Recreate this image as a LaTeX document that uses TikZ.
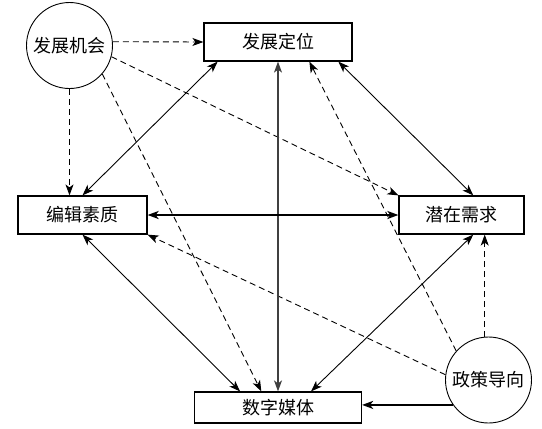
\documentclass[tikz,border=0pt]{standalone}
\usepackage{fontspec}
\newfontfamily\cjk{Noto Sans CJK SC}
\usepackage{tikz}
\usetikzlibrary{arrows.meta,positioning}

\begin{document}
\begin{tikzpicture}[x=1pt,y=-1pt,on grid,
        every node/.style={font=\cjk\fontsize{18}{20}\selectfont},
        box/.style={rectangle,draw,line width=1.2pt,inner sep=0pt,minimum height=38pt},
        factor/.style={circle,draw,line width=0.9pt,inner sep=0pt,minimum size=86pt},
        tip/.style={-{Stealth[length=11pt,width=8pt,inset=3pt]}},
        both/.style={{Stealth[length=11pt,width=8pt,inset=3pt]}-{Stealth[length=11pt,width=8pt,inset=3pt]}},
        link/.style={line width=0.9pt},
        weak/.style={line width=0.9pt,dash pattern=on 6pt off 4pt},
        strong/.style={line width=2.4pt}]
        \useasboundingbox (0,0) rectangle (542,429);

        \node[box,minimum width=148pt] (dw) at (278,42) {发展定位};
        \node[factor] (jh) [below left=3.5pt and 208.5pt of dw] {发展机会};
        \node[box,minimum width=129pt] (bj) [below left=173pt and 195.5pt of dw] {编辑素质};
        \node[box,minimum width=125pt] (qz) [below right=173pt and 183.5pt of dw] {潜在需求};
        \node[box,minimum width=167pt,minimum height=31pt] (sz) [below=365.5pt of dw] {数字媒体};
        \node[factor] (zc) [above right=27.5pt and 210.5pt of sz] {政策导向};

        % influence of the two outer factors
        \draw[weak,tip] (jh.5) -- (dw.west);
        \draw[weak,tip] (jh.south) -- (jh.south |- bj.north);
        \draw[weak,tip] (jh.-15) -- (qz.north west);
        \draw[weak,tip] (jh.-41) -- (sz.136);
        \draw[weak,tip] (zc.95) -- (zc.95 |- qz.south);
        \draw[weak,tip] (zc.173) -- (bj.south east);
        \draw[weak,tip] (zc.138) -- (dw.-32);
        \draw[strong,tip] (zc.215) -- (zc.215 -| sz.east);

        % mutual links
        \draw[link,both] (dw.198) -- (bj.north);
        \draw[link,both] (dw.-18) -- (qz.59);
        \draw[line width=1.3pt,black!75,both] (dw.south) -- (sz.north);
        \draw[strong,both] (bj.east) -- (qz.west);
        \draw[link,both] (bj.south) -- (sz.157);
        \draw[link,both] (qz.-59) -- (sz.26);
    \end{tikzpicture}
\end{document}
